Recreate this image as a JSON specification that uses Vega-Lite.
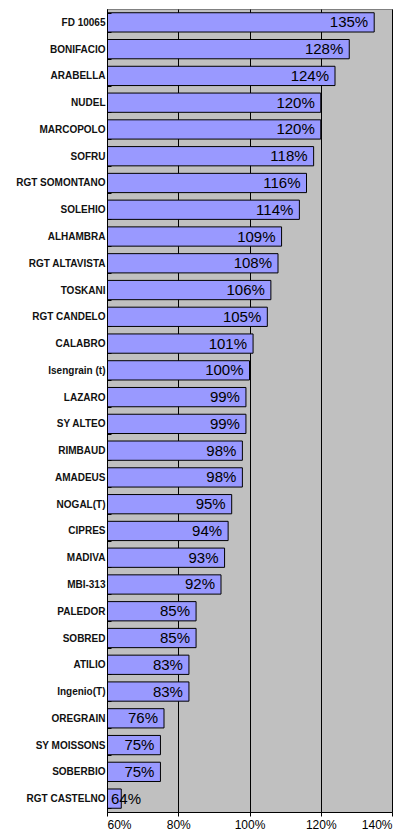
{
  "$schema": "https://vega.github.io/schema/vega-lite/v6.json",
  "autosize": {"type": "none"},
  "padding": {"left": 107, "top": 9, "right": 16, "bottom": 27},
  "width": 285,
  "height": 803,
  "background": "white",
  "config": {
    "view": {"fill": "#C0C0C0", "stroke": "#808080", "strokeWidth": 1}
  },
  "data": {"values": [
    {"name": "FD 10065", "v": 1.35},
    {"name": "BONIFACIO", "v": 1.28},
    {"name": "ARABELLA", "v": 1.24},
    {"name": "NUDEL ", "v": 1.20},
    {"name": "MARCOPOLO", "v": 1.20},
    {"name": "SOFRU", "v": 1.18},
    {"name": "RGT SOMONTANO", "v": 1.16},
    {"name": "SOLEHIO", "v": 1.14},
    {"name": "ALHAMBRA", "v": 1.09},
    {"name": "RGT ALTAVISTA", "v": 1.08},
    {"name": "TOSKANI", "v": 1.06},
    {"name": "RGT CANDELO", "v": 1.05},
    {"name": "CALABRO", "v": 1.01},
    {"name": "Isengrain (t)", "v": 1.00},
    {"name": "LAZARO", "v": 0.99},
    {"name": "SY ALTEO", "v": 0.99},
    {"name": "RIMBAUD", "v": 0.98},
    {"name": "AMADEUS", "v": 0.98},
    {"name": "NOGAL(T)", "v": 0.95},
    {"name": "CIPRES", "v": 0.94},
    {"name": "MADIVA", "v": 0.93},
    {"name": "MBI-313", "v": 0.92},
    {"name": "PALEDOR", "v": 0.85},
    {"name": "SOBRED", "v": 0.85},
    {"name": "ATILIO", "v": 0.83},
    {"name": "Ingenio(T)", "v": 0.83},
    {"name": "OREGRAIN", "v": 0.76},
    {"name": "SY MOISSONS", "v": 0.75},
    {"name": "SOBERBIO", "v": 0.75},
    {"name": "RGT CASTELNO", "v": 0.64}
  ]},
  "encoding": {
    "y": {
      "field": "name", "type": "nominal", "sort": null,
      "scale": {"paddingInner": 0.28, "paddingOuter": 0.14},
      "axis": {
        "title": null,
        "labelFont": "Liberation Sans",
        "labelFontWeight": "bold",
        "labelFontSize": 10,
        "labelColor": "#111111",
        "labelPadding": 6,
        "tickBand": "extent",
        "tickSize": -4,
        "tickColor": "black",
        "domainColor": "black",
        "grid": false,
        "zindex": 1
      }
    }
  },
  "layer": [
    {
      "mark": {"type": "bar", "fill": "#9999FF", "stroke": "black", "strokeWidth": 1, "clip": true},
      "encoding": {
        "x": {
          "field": "v", "type": "quantitative",
          "scale": {"domain": [0.6, 1.4], "nice": false, "zero": false},
          "axis": {
            "title": null,
            "values": [0.6, 0.8, 1.0, 1.2, 1.4],
            "format": ".0%",
            "labelFont": "Liberation Sans",
            "labelFontSize": 12,
            "labelColor": "black",
            "labelPadding": 3,
            "tickSize": 4,
            "tickColor": "black",
            "domainColor": "black",
            "grid": true,
            "gridColor": "black",
            "gridWidth": 1,
            "gridOpacity": 1
          }
        },
        "x2": {"datum": 0.6}
      }
    },
    {
      "transform": [{"filter": "datum.v >= 0.7"}],
      "mark": {"type": "text", "align": "right", "baseline": "middle", "dx": -6, "font": "Liberation Sans", "fontSize": 15, "color": "black"},
      "encoding": {
        "x": {"field": "v", "type": "quantitative"},
        "text": {"field": "v", "type": "quantitative", "format": ".0%"}
      }
    },
    {
      "transform": [{"filter": "datum.v < 0.7"}],
      "mark": {"type": "text", "align": "left", "baseline": "middle", "dx": 4, "font": "Liberation Sans", "fontSize": 15, "color": "black"},
      "encoding": {
        "x": {"datum": 0.6, "type": "quantitative"},
        "text": {"field": "v", "type": "quantitative", "format": ".0%"}
      }
    }
  ]
}
